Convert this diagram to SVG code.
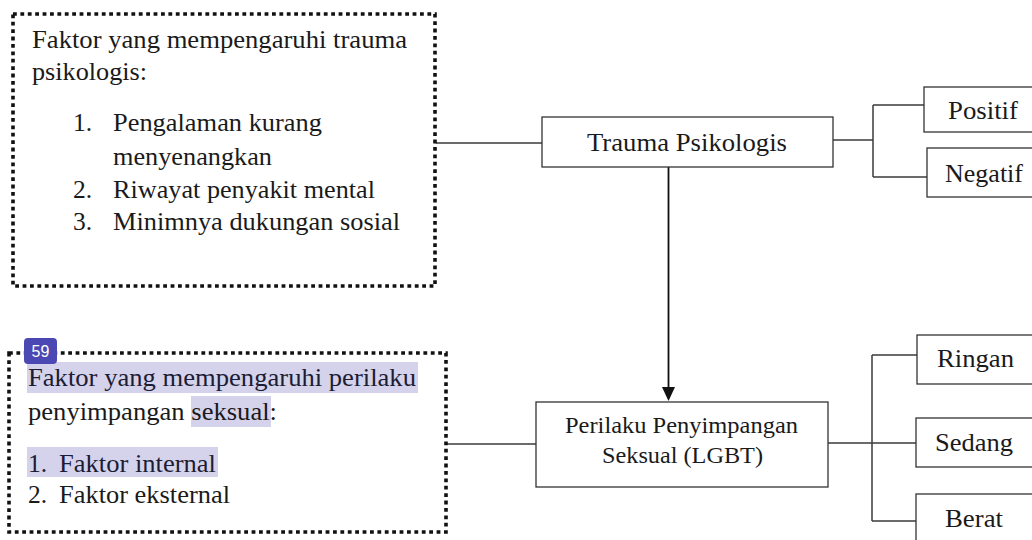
<svg xmlns="http://www.w3.org/2000/svg" width="1032" height="540" viewBox="0 0 1032 540">
<style>
.t{font-family:"Liberation Serif","Times New Roman",serif;font-size:25.5px;fill:#1a1a1a}
.s{font-size:23px}
.hlt{fill:#1c1c34}
.box{fill:#fff;stroke:#333;stroke-width:1.3}
.dot{fill:none;stroke:#111;stroke-width:3.6;stroke-dasharray:3.8 3.6}
.ln{fill:none;stroke:#3a3a3a;stroke-width:1.5}
.hl{fill:#d5d3ec}
</style>
<rect width="1032" height="540" fill="#fff"/>
<g id="connectors">
<line class="ln" x1="436" y1="143" x2="542" y2="143"/>
<line class="ln" x1="833" y1="140" x2="873" y2="140"/>
<line class="ln" x1="873" y1="105" x2="873" y2="177"/>
<line class="ln" x1="873" y1="105" x2="924" y2="105"/>
<line class="ln" x1="873" y1="177" x2="927" y2="177"/>
<line x1="668.5" y1="167" x2="668.5" y2="388" stroke="#111" stroke-width="1.8"/>
<path d="M662,387 L675,387 L668.5,401 Z" fill="#111"/>
<line class="ln" x1="446" y1="444" x2="536" y2="444"/>
<line class="ln" x1="828" y1="443" x2="872" y2="443"/>
<line class="ln" x1="872" y1="355" x2="872" y2="521"/>
<line class="ln" x1="872" y1="355" x2="917" y2="355"/>
<line class="ln" x1="872" y1="521" x2="916" y2="521"/>
<line class="ln" x1="872" y1="443" x2="916" y2="443"/>
</g>
<g id="factors-trauma">
<rect class="dot" x="13" y="14" width="422" height="272"/>
<text class="t" x="32" y="48" textLength="375" lengthAdjust="spacingAndGlyphs">Faktor yang mempengaruhi trauma</text>
<text class="t" x="32" y="80" textLength="115" lengthAdjust="spacingAndGlyphs">psikologis:</text>
<text class="t" x="73" y="131">1.</text>
<text class="t" x="113" y="131" textLength="209" lengthAdjust="spacingAndGlyphs">Pengalaman kurang</text>
<text class="t" x="113" y="165" textLength="159" lengthAdjust="spacingAndGlyphs">menyenangkan</text>
<text class="t" x="73" y="198">2.</text>
<text class="t" x="113" y="198" textLength="262" lengthAdjust="spacingAndGlyphs">Riwayat penyakit mental</text>
<text class="t" x="73" y="230">3.</text>
<text class="t" x="113" y="230" textLength="287" lengthAdjust="spacingAndGlyphs">Minimnya dukungan sosial</text>
</g>
<g id="factors-lgbt">
<rect class="hl" x="27" y="362" width="391" height="31"/>
<rect class="hl" x="191" y="396" width="80" height="31"/>
<rect class="hl" x="27" y="447" width="191" height="30"/>
<rect class="dot" x="9" y="353" width="437" height="179"/>
<text class="t hlt" x="28" y="386" textLength="388" lengthAdjust="spacingAndGlyphs">Faktor yang mempengaruhi perilaku</text>
<text class="t" x="28" y="420" textLength="249" lengthAdjust="spacingAndGlyphs">penyimpangan seksual:</text>
<text class="t hlt" x="28" y="472">1.</text>
<text class="t hlt" x="59" y="472" textLength="157" lengthAdjust="spacingAndGlyphs">Faktor internal</text>
<text class="t" x="28" y="503">2.</text>
<text class="t" x="59" y="503" textLength="171" lengthAdjust="spacingAndGlyphs">Faktor eksternal</text>
</g>
<g id="badge">
<rect x="24" y="338" width="33" height="26" rx="4" fill="#4b47b3"/>
<text x="40.5" y="357" text-anchor="middle" font-family="Liberation Sans, Arial, sans-serif" font-size="16" fill="#fff">59</text>
</g>
<g id="trauma">
<rect class="box" x="542" y="117" width="291" height="50"/>
<text class="t" x="687" y="151" text-anchor="middle" textLength="200" lengthAdjust="spacingAndGlyphs">Trauma Psikologis</text>
</g>
<g id="positif">
<rect class="box" x="924" y="87" width="120" height="45"/>
<text class="t" x="983" y="119" text-anchor="middle" textLength="70" lengthAdjust="spacingAndGlyphs">Positif</text>
</g>
<g id="negatif">
<rect class="box" x="927" y="148" width="120" height="49"/>
<text class="t" x="984" y="182" text-anchor="middle" textLength="78" lengthAdjust="spacingAndGlyphs">Negatif</text>
</g>
<g id="perilaku">
<rect class="box" x="536" y="402" width="292" height="85"/>
<text class="t s" x="681.5" y="433" text-anchor="middle" textLength="233" lengthAdjust="spacingAndGlyphs">Perilaku Penyimpangan</text>
<text class="t s" x="682.5" y="463" text-anchor="middle" textLength="161" lengthAdjust="spacingAndGlyphs">Seksual (LGBT)</text>
</g>
<g id="ringan">
<rect class="box" x="917" y="335" width="125" height="49"/>
<text class="t" x="975.5" y="367" text-anchor="middle" textLength="77" lengthAdjust="spacingAndGlyphs">Ringan</text>
</g>
<g id="sedang">
<rect class="box" x="916" y="418" width="125" height="49"/>
<text class="t" x="974" y="451" text-anchor="middle" textLength="78" lengthAdjust="spacingAndGlyphs">Sedang</text>
</g>
<g id="berat">
<rect class="box" x="916" y="494" width="125" height="60"/>
<text class="t" x="974" y="527" text-anchor="middle" textLength="58" lengthAdjust="spacingAndGlyphs">Berat</text>
</g>
</svg>
